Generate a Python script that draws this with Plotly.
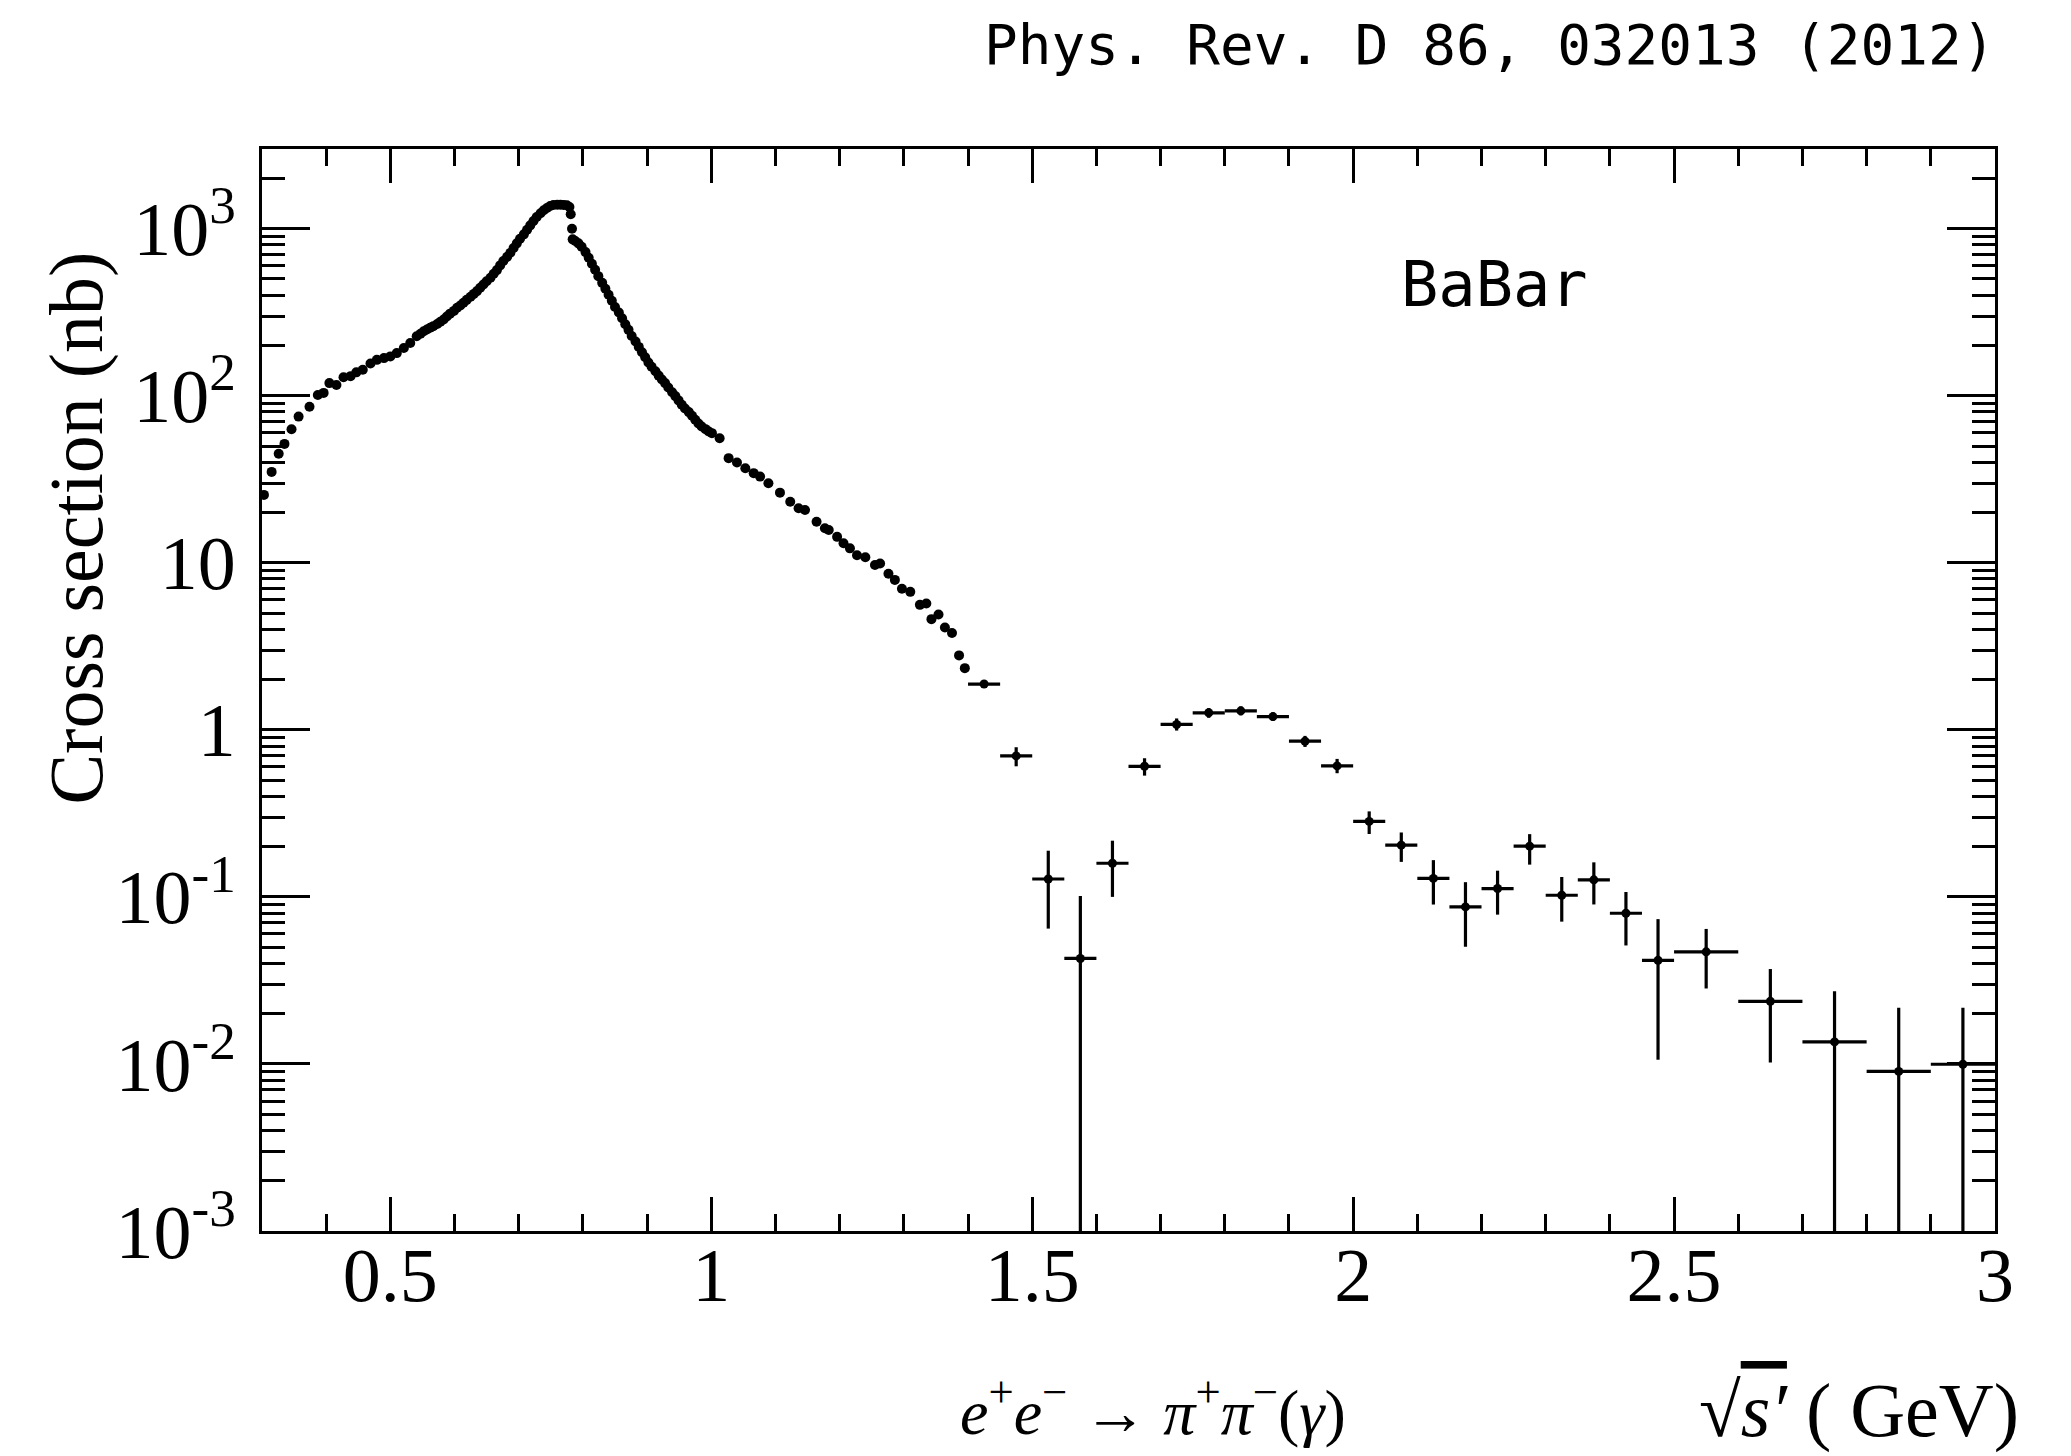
import plotly.graph_objects as go

# e+e- -> pi+pi-(gamma) cross section, BaBar
# fine-binned region, x in GeV, sigma in nb
dense_x = [
    0.303, 0.315, 0.326, 0.335, 0.346, 0.357, 0.374, 0.387, 0.396, 0.405,
    0.416, 0.427, 0.438, 0.447, 0.457, 0.469, 0.479, 0.490, 0.500, 0.510,
    0.521, 0.531, 0.541, 0.547, 0.552, 0.557, 0.562, 0.567, 0.573, 0.578,
    0.583, 0.588, 0.593, 0.599, 0.604, 0.609, 0.614, 0.619, 0.625, 0.630,
    0.635, 0.640, 0.645, 0.650, 0.656, 0.661, 0.666, 0.671, 0.676, 0.682,
    0.687, 0.692, 0.697, 0.702, 0.708, 0.713, 0.718, 0.723, 0.728, 0.734,
    0.739, 0.744, 0.749, 0.754, 0.760, 0.765, 0.770, 0.775, 0.779, 0.781,
    0.783, 0.784, 0.788, 0.793, 0.798, 0.804, 0.809, 0.814, 0.819, 0.824,
    0.830, 0.835, 0.840, 0.845, 0.850, 0.856, 0.861, 0.866, 0.871, 0.876,
    0.882, 0.887, 0.892, 0.897, 0.902, 0.907, 0.913, 0.918, 0.923, 0.928,
    0.933, 0.939, 0.944, 0.949, 0.954, 0.959, 0.965, 0.970, 0.975, 0.980,
    0.985, 0.991, 0.996, 1.001, 1.013, 1.027, 1.040, 1.053, 1.066, 1.076,
    1.089, 1.107, 1.123, 1.136, 1.146, 1.164, 1.177, 1.183, 1.196, 1.206,
    1.216, 1.227, 1.240, 1.255, 1.263, 1.276, 1.286, 1.297, 1.310, 1.325,
    1.335, 1.343, 1.354, 1.364, 1.375, 1.386, 1.395,
]
dense_y = [
    25.5, 35, 45, 51.5, 63, 75, 86, 101, 104, 119,
    116, 129, 131, 138, 143, 156, 164, 168, 172, 180,
    193, 207, 227, 235, 243, 249, 255, 261, 269, 277,
    286, 298, 310, 322, 336, 347, 360, 375, 391, 407,
    423, 443, 463, 485, 508, 537, 565, 603, 640, 679,
    718, 766, 817, 871, 925, 986, 1047, 1112, 1175, 1236,
    1288, 1330, 1368, 1387, 1393, 1393, 1387, 1380, 1349, 1219,
    1000, 863, 843, 817, 780, 724, 670, 617, 568, 520,
    474, 437, 402, 370, 340, 315, 291, 268, 248, 228,
    211, 196, 182, 170, 158, 149, 140, 132, 125, 119,
    112, 105, 99.5, 93.8, 88.3, 83.9, 79.8, 75.9, 71.8, 68.2,
    65.5, 63.1, 61.1, 59.7, 55.7, 42.3, 39.8, 36.8, 34.4, 32.8,
    29.9, 26.3, 23.2, 21.2, 20.7, 17.6, 16.1, 15.7, 14.3, 13.1,
    12.2, 11.1, 10.8, 9.7, 9.9, 8.6, 7.9, 7.0, 6.7, 5.6,
    5.7, 4.6, 4.9, 4.1, 3.8, 2.79, 2.34,
]

# coarse bins above 1.4 GeV: centre, half width, value, upper and lower error edge
bin_x = [1.425, 1.475, 1.525, 1.575, 1.625, 1.675, 1.725, 1.775, 1.825, 1.875,
         1.925, 1.975, 2.025, 2.075, 2.125, 2.175, 2.225, 2.275, 2.325, 2.375,
         2.425, 2.475, 2.55, 2.65, 2.75, 2.85, 2.95]
bin_hw = [0.025] * 22 + [0.05] * 5
bin_y = [1.88, 0.698, 0.128, 0.0428, 0.159, 0.605, 1.077, 1.265, 1.30, 1.20,
         0.855, 0.608, 0.283, 0.204, 0.129, 0.0871, 0.1122, 0.2013, 0.1023, 0.1265,
         0.0798, 0.0417, 0.0469, 0.0237, 0.01355, 0.00902, 0.00996]
bin_hi = [1.95, 0.787, 0.189, 0.1014, 0.217, 0.676, 1.17, 1.35, 1.38, 1.27,
          0.92, 0.67, 0.325, 0.243, 0.166, 0.1225, 0.1435, 0.2375, 0.1316, 0.161,
          0.107, 0.0736, 0.0643, 0.037, 0.0272, 0.0217, 0.0217]
bin_lo = [1.81, 0.605, 0.0646, 0, 0.100, 0.532, 0.99, 1.18, 1.22, 1.13,
          0.79, 0.55, 0.238, 0.162, 0.090, 0.0503, 0.0783, 0.156, 0.0711, 0.0901,
          0.0512, 0.0106, 0.0283, 0.0102, 0, 0, 0]

y_tickvals = [1e-3, 1e-2, 1e-1, 1, 10, 100, 1000]
y_ticktext = ["10<sup>-3</sup>", "10<sup>-2</sup>", "10<sup>-1</sup>", "1", "10",
              "10<sup>2</sup>", "10<sup>3</sup>"]
x_tickvals = [0.5, 1, 1.5, 2, 2.5, 3]
x_ticktext = ["0.5", "1", "1.5", "2", "2.5", "3"]

# error edges -> plotly error arrays (zero lower edge pushed below the axis)
err_plus = [h - v for h, v in zip(bin_hi, bin_y)]
err_minus = [v - max(l, 1e-5) for l, v in zip(bin_lo, bin_y)]

y_minor = [m * 10.0 ** e for e in range(-3, 4) for m in range(2, 10) if m * 10.0 ** e < 3000]

serif = "Liberation Serif"
mono = "DejaVu Sans Mono"

fig = go.Figure()

fig.add_trace(go.Scatter(
    x=dense_x, y=dense_y,
    mode="markers",
    marker=dict(color="black", size=10),
    showlegend=False,
))

fig.add_trace(go.Scatter(
    x=bin_x, y=bin_y,
    mode="markers",
    marker=dict(color="black", size=9),
    error_x=dict(type="data", array=bin_hw, width=0, thickness=3.2, color="black"),
    error_y=dict(type="data", symmetric=False, array=err_plus, arrayminus=err_minus,
                 width=0, thickness=3.2, color="black"),
    showlegend=False,
))

axis_common = dict(
    showline=True, linecolor="black", linewidth=3, mirror="allticks",
    ticks="inside", tickcolor="black", tickwidth=2.5,
    showgrid=False, zeroline=False, automargin=False,
    tickfont=dict(family=serif, size=76, color="black"),
)

fig.update_xaxes(
    range=[0.3, 3], tickmode="array", tickvals=x_tickvals, ticktext=x_ticktext,
    ticklen=34, ticklabelstandoff=-24,
    minor=dict(dtick=0.1, tick0=0, ticks="inside", ticklen=17, tickwidth=2.5,
               tickcolor="black", showgrid=False),
    **axis_common,
)
fig.update_yaxes(
    type="log", range=[-3, 3.477], tickmode="array", tickvals=y_tickvals,
    ticktext=y_ticktext, ticklen=48, ticklabelstandoff=8,
    minor=dict(tickmode="array", tickvals=y_minor, ticks="inside", ticklen=23,
               tickwidth=2.5, tickcolor="black", showgrid=False),
    **axis_common,
)

fig.add_annotation(
    text="Cross section (nb)", textangle=-90,
    xref="paper", yref="paper", x=-0.1068, y=0.65, xanchor="center", yanchor="middle",
    showarrow=False, font=dict(family=serif, size=76, color="black"),
)
fig.add_annotation(
    text="<i>e</i><sup>+</sup><i>e</i><sup>−</sup> → <i>π</i><sup>+</sup><i>π</i><sup>−</sup>(<i>γ</i>)",
    xref="paper", yref="paper", x=0.514, y=-0.163, xanchor="center", yanchor="middle",
    showarrow=False, font=dict(family=serif, size=64, color="black"),
)
fig.add_annotation(
    text="√<span style='text-decoration:overline'><i>s′</i></span> ( GeV)",
    xref="paper", yref="paper", x=1.015, y=-0.166, xanchor="right", yanchor="middle",
    showarrow=False, font=dict(family=serif, size=76, color="black"),
)
fig.add_annotation(
    text="BaBar", xref="paper", yref="paper", x=0.711, y=0.875,
    xanchor="center", yanchor="middle", showarrow=False,
    font=dict(family=mono, size=62, color="black"),
)
fig.add_annotation(
    text="Phys. Rev. D 86, 032013 (2012)", xref="paper", yref="paper",
    x=1.001, y=1.097, xanchor="right", yanchor="middle", showarrow=False,
    font=dict(family=mono, size=56, color="black"),
)

# page has an 8 px body margin, so the figure is 8 px smaller than the window
fig.update_layout(
    width=2063, height=1448, autosize=False,
    margin=dict(l=254, r=76, t=141, b=225),
    plot_bgcolor="white", paper_bgcolor="white",
)

fig.write_html("out.html")
